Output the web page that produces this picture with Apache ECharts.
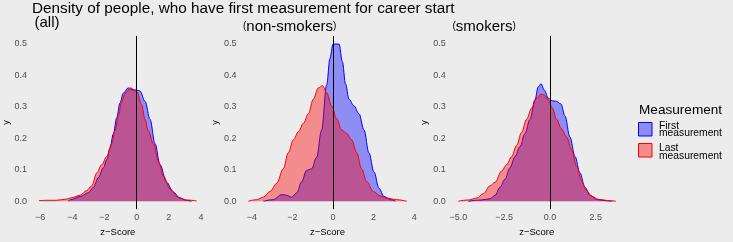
<!DOCTYPE html>
<html>
<head>
<meta charset="utf-8">
<script src="https://cdn.jsdelivr.net/npm/echarts@6/dist/echarts.min.js"></script>
<style>
html,body{margin:0;padding:0;background:#ececec;}
#chart{width:733px;height:242px;}
</style>
</head>
<body>
<div id="chart"></div>
<script>
// ---- data ----
const titleText = "Density of people, who have first measurement for career start";
const panelNames = ["all", "non-smokers", "smokers"];
const legendTitle = "Measurement";
const groupNames = ["First measurement", "Last measurement"];

const allFirstX = [-4.25,-4.1,-3.5,-3.0,-2.69,-2.38,-2.07,-1.86,-1.66,-1.45,-1.24,-1.04,-0.83,-0.52,-0.3,0,0.2,0.52,0.83,1.14,1.45,1.86,2.27,2.69,3.08,3.4];
const allFirstY = [0,0.005,0.015,0.027,0.044,0.075,0.106,0.132,0.168,0.214,0.265,0.312,0.343,0.360,0.354,0.353,0.350,0.317,0.260,0.183,0.116,0.060,0.029,0.010,0.003,0];
const allLastX = [-6.07,-5.5,-5.0,-4.45,-4.04,-3.52,-3.1,-2.79,-2.48,-2.17,-1.86,-1.55,-1.35,-1.14,-0.93,-0.72,-0.37,0,0.31,0.52,0.72,1.04,1.35,1.66,2.07,2.59,3.1,3.73];
const allLastY = [0.002,0.003,0.003,0.006,0.011,0.019,0.034,0.049,0.090,0.116,0.142,0.183,0.224,0.271,0.317,0.343,0.360,0.348,0.306,0.260,0.224,0.183,0.127,0.080,0.039,0.012,0.004,0.001];

const nonFirstX = [-3.43,-2.94,-2.53,-2.28,-2.04,-1.79,-1.54,-1.3,-1.05,-0.81,-0.56,-0.31,-0.15,0,0.3,0.46,0.62,0.79,1.03,1.28,1.53,1.77,2.02,2.27,2.51,2.84,3.08];
const nonFirstY = [0,0.005,0.021,0.019,0.013,0.026,0.062,0.098,0.103,0.139,0.226,0.370,0.453,0.499,0.499,0.444,0.372,0.324,0.303,0.278,0.226,0.154,0.093,0.041,0.015,0.005,0];
const nonLastX = [-4.17,-3.76,-3.43,-3.1,-2.77,-2.45,-2.2,-1.95,-1.7,-1.46,-1.21,-0.97,-0.72,-0.51,-0.31,-0.07,0.18,0.43,0.67,0.92,1.17,1.41,1.66,1.99,2.32,2.64,3.13,3.63];
const nonLastY = [0,0.005,0.013,0.031,0.057,0.103,0.154,0.195,0.221,0.247,0.278,0.324,0.360,0.367,0.345,0.303,0.262,0.226,0.216,0.195,0.154,0.103,0.062,0.031,0.017,0.010,0.005,0];

const smkFirstX = [-4.46,-3.73,-3.27,-3.0,-2.73,-2.46,-2.19,-1.91,-1.64,-1.37,-1.09,-0.82,-0.64,-0.49,-0.31,-0.09,0.13,0.36,0.6,0.82,1.09,1.37,1.64,1.91,2.19,2.55,3.01,3.38];
const smkFirstY = [0,0.004,0.008,0.019,0.044,0.070,0.106,0.142,0.173,0.214,0.260,0.322,0.363,0.373,0.353,0.327,0.319,0.317,0.309,0.271,0.204,0.142,0.090,0.044,0.019,0.006,0.002,0];
const smkLastX = [-5.01,-4.46,-4.0,-3.64,-3.27,-3.0,-2.64,-2.37,-2.09,-1.82,-1.55,-1.28,-1.0,-0.73,-0.49,-0.31,-0.09,0.13,0.36,0.64,0.91,1.19,1.46,1.73,2.0,2.28,2.64,3.19,3.6];
const smkLastY = [0,0.004,0.010,0.024,0.049,0.060,0.096,0.116,0.142,0.178,0.219,0.260,0.296,0.327,0.340,0.337,0.322,0.296,0.260,0.229,0.204,0.163,0.111,0.065,0.034,0.016,0.006,0.002,0];

const xTicks = [[-6,-4,-2,0,2,4],[-4,-2,0,2,4],[-5,-2.5,0,2.5]];
const xTickDecimals = [0,0,1];
const yTicks = [0,0.1,0.2,0.3,0.4,0.5];
const xRanges = [[-6.56,4.22],[-4.56,4.02],[-5.48,4.03]];
const yRange = [-0.025,0.525];
const vlineValues = [0,0,0];

// ---- layout / style ----
const FONT = '"Liberation Sans", Arial, Helvetica, sans-serif';
const gridLefts = [31.1, 240.4, 449.7];
const gridWidths = [173.5, 174.2, 174.0];
const gridTop = 35.9, gridHeight = 178.2;
const blue = '#0000ff', red = '#ff0000';
const blueFill = 'rgba(0,0,255,0.4)', redFill = 'rgba(255,0,0,0.4)';

function fmt(v, d){ const s = Math.abs(v).toFixed(d); return v < 0 ? '\u2212' + s : s; }
function pairs(xs, ys){ return xs.map((x,i)=>[x, ys[i]]); }

const curves = [
  [pairs(allFirstX, allFirstY), pairs(allLastX, allLastY)],
  [pairs(nonFirstX, nonFirstY), pairs(nonLastX, nonLastY)],
  [pairs(smkFirstX, smkFirstY), pairs(smkLastX, smkLastY)]
];

const grids = [], xAxes = [], yAxes = [], series = [];
for (let i = 0; i < 3; i++) {
  grids.push({left: gridLefts[i], top: gridTop, width: gridWidths[i], height: gridHeight, containLabel: false});
  xAxes.push({
    type: 'value', gridIndex: i, min: xRanges[i][0], max: xRanges[i][1],
    axisLine: {show: false}, axisTick: {show: false}, splitLine: {show: false},
    axisLabel: {customValues: xTicks[i], formatter: (v)=>fmt(v, xTickDecimals[i]), color: '#4d4d4d',
      fontFamily: FONT, fontSize: 9, margin: 4, showMinLabel: true, showMaxLabel: true},
    name: 'z\u2212Score', nameLocation: 'middle', nameGap: 14,
    nameTextStyle: {color: '#000', fontFamily: FONT, fontSize: 9.5}
  });
  yAxes.push({
    type: 'value', gridIndex: i, min: yRange[0], max: yRange[1],
    axisLine: {show: false}, axisTick: {show: false}, splitLine: {show: false},
    axisLabel: {customValues: yTicks, formatter: (v)=>v.toFixed(1), color: '#4d4d4d',
      fontFamily: FONT, fontSize: 9, margin: 4},
    name: 'y', nameLocation: 'middle', nameRotate: 90, nameGap: 18,
    nameTextStyle: {color: '#000', fontFamily: FONT, fontSize: 9}
  });
  const cols = [[blue, blueFill], [red, redFill]];
  for (let g = 0; g < 2; g++) {
    const s = {
      type: 'line', name: groupNames[g], xAxisIndex: i, yAxisIndex: i,
      data: curves[i][g], smooth: 0.35, smoothMonotone: 'x', showSymbol: false, symbol: 'none',
      lineStyle: {color: cols[g][0], width: 1},
      areaStyle: {color: cols[g][1], opacity: 1},
      silent: true, z: 2 + g
    };
    if (g === 1) {
      s.markLine = {symbol: 'none', silent: true, label: {show: false},
        lineStyle: {color: '#000', width: 1, type: 'solid'},
        data: [{xAxis: vlineValues[i]}]};
    }
    series.push(s);
  }
}

const stripY = [23, 26.4, 26.4];
const stripX = [34.5, 243, 452.5];
const graphics = [
  {type: 'text', left: 32, top: 1.5, style: {text: titleText, font: '15.3px ' + FONT, fill: '#000'}},
  {type: 'text', x: stripX[0], y: stripY[0], style: {text: '(' + panelNames[0] + ')', font: '15px ' + FONT, fill: '#000', verticalAlign: 'middle'}},
  {type: 'text', x: stripX[1], y: stripY[1], style: {text: '{p|(}' + panelNames[1] + '{p|)}', font: '15px ' + FONT, fill: '#000', verticalAlign: 'middle',
     rich: {p: {fontSize: 10, fontFamily: FONT, fill: '#000'}}}},
  {type: 'text', x: stripX[2], y: stripY[2], style: {text: '{p|(}' + panelNames[2] + '{p|)}', font: '15px ' + FONT, fill: '#000', verticalAlign: 'middle',
     rich: {p: {fontSize: 10, fontFamily: FONT, fill: '#000'}}}},
  // legend
  {type: 'text', x: 639, y: 110, style: {text: legendTitle, font: '13.6px ' + FONT, fill: '#000', verticalAlign: 'middle'}},
  {type: 'rect', shape: {x: 638.5, y: 122.5, width: 13.5, height: 13.5}, style: {fill: blueFill, stroke: blue, lineWidth: 1}},
  {type: 'rect', shape: {x: 638.5, y: 143.5, width: 13.5, height: 13.5}, style: {fill: redFill, stroke: red, lineWidth: 1}},
  {type: 'text', x: 659, y: 126.5, style: {text: groupNames[0].split(' ')[0], font: '10.3px ' + FONT, fill: '#000', verticalAlign: 'middle'}},
  {type: 'text', x: 659, y: 133.5, style: {text: groupNames[0].split(' ')[1], font: '10.3px ' + FONT, fill: '#000', verticalAlign: 'middle'}},
  {type: 'text', x: 659, y: 148.5, style: {text: groupNames[1].split(' ')[0], font: '10.3px ' + FONT, fill: '#000', verticalAlign: 'middle'}},
  {type: 'text', x: 659, y: 156, style: {text: groupNames[1].split(' ')[1], font: '10.3px ' + FONT, fill: '#000', verticalAlign: 'middle'}}
];

const chart = echarts.init(document.getElementById('chart'), null, {renderer: 'canvas'});
chart.setOption({
  backgroundColor: '#ececec',
  animation: false,
  grid: grids, xAxis: xAxes, yAxis: yAxes, series: series,
  graphic: graphics
});
</script>
</body>
</html>
